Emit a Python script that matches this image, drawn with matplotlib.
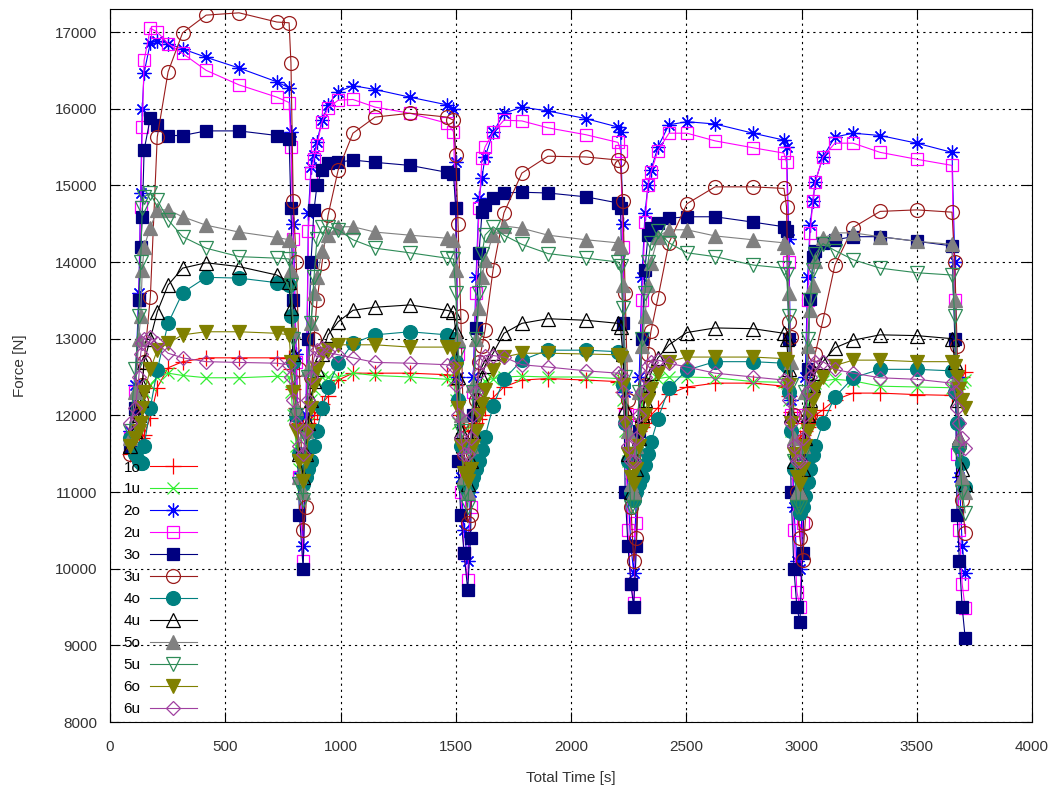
import matplotlib
matplotlib.use("Agg")
import matplotlib.pyplot as plt

# measurement times per cycle [s] (shared by all series)
t_c1 = [85, 110, 125, 133, 140, 148, 175, 205, 252, 315, 417, 560, 724, 777, 785, 795, 808, 822]
t_c2 = [838, 850, 861, 872, 885, 898, 920, 946, 990, 1054, 1150, 1301, 1462, 1490, 1500, 1510, 1522, 1536]
t_c3 = [1552, 1564, 1576, 1588, 1601, 1614, 1627, 1662, 1709, 1787, 1900, 2065, 2204, 2215, 2225, 2235, 2247, 2260]
t_c4 = [2272, 2284, 2296, 2308, 2321, 2334, 2347, 2377, 2425, 2503, 2625, 2790, 2924, 2935, 2945, 2955, 2967, 2980]
t_c5 = [2993, 3005, 3016, 3027, 3037, 3050, 3059, 3093, 3145, 3224, 3341, 3500, 3653, 3665, 3675, 3685, 3697, 3710]
time = t_c1 + t_c2 + t_c3 + t_c4 + t_c5

# force [N], one line per cycle
f_1o = [11500, 11550, 11600, 11650, 11700, 11750, 11970, 12360, 12620, 12700, 12750, 12750, 12750, 12750, 12600, 12350, 12100, 11900,
        11850, 11850, 11900, 11950, 12000, 12050, 12150, 12250, 12460, 12550, 12550, 12550, 12530, 12520, 12400, 12200, 12000, 11850,
        11800, 11800, 11850, 11900, 11950, 12000, 12100, 12230, 12370, 12460, 12480, 12460, 12440, 12430, 12300, 12100, 11950, 11800,
        11750, 11750, 11800, 11850, 11900, 11950, 12000, 12100, 12280, 12370, 12420, 12420, 12380, 12370, 12250, 12050, 11900, 11750,
        11700, 11750, 11800, 11850, 11900, 11950, 12000, 12070, 12200, 12290, 12290, 12270, 12260, 12300, 12350, 12450, 12500, 12560]
f_1u = [11700, 11800, 12000, 12100, 12200, 12300, 12400, 12500, 12550, 12520, 12490, 12490, 12510, 12500, 12300, 12000, 11600, 11300,
        11100, 11500, 11900, 12200, 12350, 12450, 12500, 12500, 12500, 12550, 12520, 12500, 12470, 12460, 12200, 11900, 11500, 11100,
        11100, 11500, 11900, 12150, 12300, 12400, 12450, 12480, 12500, 12510, 12500, 12500, 12480, 12470, 12200, 11800, 11400, 11100,
        11100, 11500, 11900, 12150, 12300, 12400, 12450, 12480, 12500, 12500, 12490, 12440, 12430, 12420, 12200, 11800, 11400, 11100,
        11100, 11500, 11900, 12150, 12300, 12380, 12420, 12450, 12470, 12450, 12380, 12370, 12360, 12380, 12400, 12420, 12440, 12460]
f_2o = [11800, 12400, 13600, 14900, 16000, 16470, 16860, 16880, 16850, 16780, 16670, 16530, 16350, 16270, 15700, 14500, 12800, 11200,
        10300, 12000, 14640, 15240, 15400, 15570, 15850, 16050, 16220, 16300, 16250, 16150, 16050, 16000, 15300, 12500, 11200, 10500,
        10100, 11000, 12500, 13800, 14830, 15100, 15370, 15690, 15940, 16020, 15970, 15870, 15760, 15700, 14500, 12300, 11000, 10300,
        9950, 11000, 12500, 13800, 14640, 15000, 15200, 15500, 15790, 15830, 15800, 15680, 15590, 15500, 14300, 12200, 10800, 10100,
        10000, 11000, 12500, 13800, 14480, 14800, 15040, 15370, 15630, 15680, 15650, 15550, 15430, 14000, 12500, 11200, 10300, 9950]
f_2u = [11700, 12300, 13500, 14720, 15760, 16630, 17050, 17000, 16850, 16720, 16500, 16310, 16150, 16080, 15500, 14300, 12700, 11200,
        10100, 11800, 14400, 15160, 15350, 15530, 15830, 16010, 16110, 16120, 16020, 15940, 15810, 15700, 14700, 12800, 11000, 10200,
        9850, 10800, 12300, 13600, 14700, 15360, 15500, 15690, 15850, 15840, 15750, 15660, 15560, 15450, 14200, 12000, 10500, 9800,
        9550, 10600, 12000, 13500, 14520, 15000, 15170, 15450, 15680, 15680, 15580, 15490, 15420, 15300, 14000, 12000, 10500, 9700,
        9500, 10600, 12000, 13500, 14380, 14800, 15040, 15370, 15550, 15550, 15430, 15340, 15260, 13500, 11500, 10500, 9800, 9490]
f_3o = [11600, 12100, 13500, 14200, 14590, 15460, 15880, 15790, 15650, 15650, 15710, 15710, 15650, 15610, 14700, 13500, 12000, 10700,
        10000, 11500, 13000, 14000, 14680, 15000, 15200, 15290, 15300, 15330, 15300, 15260, 15170, 15150, 14700, 11400, 10700, 10200,
        9720, 10400, 12000, 13140, 14120, 14650, 14750, 14830, 14900, 14910, 14900, 14850, 14770, 14700, 13200, 11000, 10300, 9800,
        9500, 10300, 11800, 13000, 13900, 14350, 14450, 14510, 14570, 14590, 14590, 14520, 14460, 14400, 13000, 11000, 10000, 9500,
        9300, 10200, 11500, 12600, 13520, 14060, 14150, 14250, 14290, 14330, 14330, 14270, 14210, 13000, 10700, 10100, 9500, 9100]
f_3u = [11500, 11800, 12000, 12200, 12400, 12700, 13540, 15630, 16480, 16990, 17220, 17250, 17130, 17120, 16600, 14800, 14000, 12600,
        10500, 10800, 11800, 12500, 13000, 13500, 13990, 14610, 15200, 15680, 15890, 15940, 15890, 15850, 15400, 14500, 13300, 11500,
        10600, 10700, 11500, 12200, 12700, 12900, 13110, 13900, 14640, 15160, 15380, 15370, 15330, 15250, 14800, 13600, 12200, 10800,
        10100, 10400, 11200, 11900, 12400, 12800, 13100, 13530, 14250, 14760, 14980, 14980, 14960, 14720, 13220, 13020, 12000, 11000,
        10400, 10110, 10600, 11300, 12000, 12500, 12800, 13240, 13960, 14450, 14660, 14680, 14650, 14000, 12900, 11600, 10900, 10460]
f_4o = [11700, 11500, 11400, 11380, 11380, 11600, 12100, 12590, 13200, 13600, 13800, 13790, 13730, 13700, 13300, 12700, 12000, 11500,
        11100, 11200, 11300, 11400, 11600, 11800, 12100, 12370, 12680, 12940, 13050, 13090, 13050, 13000, 12700, 12200, 11600, 11100,
        11030, 11100, 11200, 11300, 11400, 11550, 11720, 12120, 12470, 12720, 12850, 12850, 12830, 12800, 12400, 11900, 11400, 11000,
        10900, 11000, 11100, 11200, 11350, 11500, 11650, 11950, 12360, 12590, 12700, 12700, 12680, 12650, 12300, 11800, 11300, 10900,
        10730, 10800, 10950, 11130, 11300, 11480, 11600, 11900, 12240, 12490, 12600, 12600, 12580, 12300, 11900, 11600, 11380, 11070]
f_4u = [11600, 11800, 12000, 12200, 12400, 12700, 13000, 13350, 13700, 13920, 13990, 13940, 13830, 13740, 13400, 12800, 12100, 11500,
        11200, 11500, 11900, 12200, 12450, 12600, 12800, 13050, 13220, 13370, 13410, 13440, 13370, 13350, 13100, 12500, 11800, 11200,
        11100, 11400, 11800, 12100, 12300, 12500, 12650, 12810, 13070, 13200, 13260, 13240, 13200, 13150, 12800, 12100, 11500, 11000,
        11000, 11300, 11700, 12000, 12200, 12400, 12550, 12750, 12920, 13080, 13140, 13130, 13070, 13000, 12600, 12000, 11400, 11000,
        11000, 11300, 11700, 12000, 12200, 12400, 12550, 12700, 12880, 12980, 13050, 13040, 13000, 12700, 12200, 11700, 11300, 11100]
f_5o = [11700, 12300, 13000, 13300, 13900, 14200, 14450, 14680, 14680, 14590, 14480, 14390, 14320, 14290, 13900, 13100, 12100, 11200,
        11000, 11800, 12600, 13200, 13600, 13800, 14150, 14350, 14460, 14460, 14390, 14350, 14310, 14290, 13900, 13000, 12000, 11200,
        11000, 11600, 12400, 13000, 13400, 13800, 14030, 14350, 14470, 14440, 14350, 14290, 14250, 14200, 13700, 12800, 11800, 11100,
        11000, 11600, 12300, 12900, 13300, 13700, 13990, 14330, 14420, 14420, 14340, 14290, 14250, 14200, 13600, 12700, 11700, 11000,
        11000, 11600, 12300, 12900, 13380, 13700, 14010, 14310, 14380, 14380, 14330, 14270, 14230, 13500, 12500, 11700, 11200, 11000]
f_5u = [11800, 12600, 13300, 14000, 14700, 14850, 14900, 14810, 14550, 14330, 14180, 14070, 14050, 14040, 13700, 13000, 12000, 11100,
        10900, 11700, 12500, 13200, 13800, 14300, 14460, 14460, 14420, 14290, 14180, 14120, 14050, 14040, 13600, 12800, 11800, 11000,
        10800, 11500, 12300, 13000, 13600, 14100, 14350, 14460, 14350, 14230, 14110, 14050, 14000, 13950, 13400, 12500, 11500, 10800,
        10800, 11500, 12300, 13000, 13600, 14000, 14250, 14400, 14250, 14120, 14070, 13960, 13920, 13850, 13300, 12400, 11400, 10800,
        10800, 11500, 12300, 13000, 13500, 13900, 14100, 14240, 14150, 14030, 13920, 13860, 13830, 13300, 12300, 11500, 11000, 10730]
f_6o = [11600, 11700, 11800, 11900, 12100, 12300, 12600, 12850, 12940, 13050, 13090, 13090, 13070, 13050, 12700, 12300, 11800, 11400,
        11150, 11400, 11800, 12100, 12400, 12600, 12800, 12850, 12920, 12920, 12920, 12890, 12890, 12870, 12600, 12100, 11600, 11250,
        11150, 11300, 11600, 11800, 12000, 12150, 12330, 12590, 12760, 12810, 12810, 12800, 12790, 12750, 12400, 11900, 11500, 11200,
        11100, 11300, 11600, 11800, 12000, 12200, 12350, 12550, 12700, 12760, 12760, 12760, 12740, 12700, 12400, 11900, 11500, 11200,
        11100, 11300, 11600, 11800, 12000, 12200, 12350, 12500, 12650, 12720, 12720, 12700, 12700, 12650, 12500, 12350, 12200, 12100]
f_6u = [11900, 12100, 12500, 12800, 12950, 13000, 13020, 12940, 12810, 12750, 12700, 12690, 12680, 12660, 12500, 12200, 11900, 11600,
        11500, 11800, 12200, 12500, 12750, 12850, 12880, 12820, 12790, 12750, 12690, 12680, 12660, 12640, 12400, 12000, 11700, 11500,
        11500, 11700, 12000, 12300, 12550, 12700, 12780, 12780, 12760, 12660, 12630, 12580, 12550, 12530, 12300, 11900, 11600, 11400,
        11400, 11700, 12000, 12300, 12500, 12650, 12700, 12720, 12680, 12630, 12550, 12500, 12460, 12440, 12200, 11900, 11600, 11400,
        11400, 11700, 12000, 12300, 12500, 12650, 12700, 12700, 12600, 12550, 12490, 12470, 12420, 12300, 12100, 11900, 11700, 11570]

labels = ["1o", "1u", "2o", "2u", "3o", "3u", "4o", "4u", "5o", "5u", "6o", "6u"]
forces = [f_1o, f_1u, f_2o, f_2u, f_3o, f_3u, f_4o, f_4u, f_5o, f_5u, f_6o, f_6u]

# colour, marker, size, filled
styles = [
    ("#ff0000", "+", 11, True),
    ("#33ee33", "x", 8, True),
    ("#0000ff", (8, 2, 0), 10, True),
    ("#ff00ff", "s", 8, False),
    ("#000080", "s", 8, True),
    ("#9a1c1c", "o", 10, False),
    ("#008080", "o", 10, True),
    ("#000000", "^", 10, False),
    ("#808080", "^", 10, True),
    ("#2e8b57", "v", 10, False),
    ("#808000", "v", 10, True),
    ("#a040a0", "D", 7, False),
]

plt.rcParams["font.family"] = ["Liberation Sans", "DejaVu Sans"]
plt.rcParams["font.size"] = 11

fig = plt.figure(figsize=(10.64, 7.89), dpi=100)
ax = fig.add_axes([110 / 1064, 1 - 722 / 789, 922 / 1064, 713 / 789])

for lab, f, (c, m, ms, filled) in zip(labels, forces, styles):
    ax.plot(time, f, color=c, lw=0.8, marker=m, ms=ms, mew=0.9,
            mfc=c if filled else "none", mec=c, label=lab)

ax.set_xlim(0, 4000)
ax.set_ylim(8000, 17300)
ax.set_xticks(range(0, 4001, 500))
ax.set_yticks(range(8000, 17001, 1000))
ax.grid(True, color="black", lw=0.8, linestyle=(0, (2, 3.5)))
ax.tick_params(direction="in", length=7, top=True, right=True, colors="black",
               labelcolor="#333333", labelsize=11)
ax.tick_params(axis="y", pad=9)
ax.tick_params(axis="x", pad=13)
ax.set_xlabel("Total Time [s]", color="#333333", labelpad=12)
ax.set_ylabel("Force [N]", color="#333333", labelpad=20)

ax.legend(loc="lower left", bbox_to_anchor=(0.008, 0.0), frameon=False,
          markerfirst=False, numpoints=1, handlelength=3.1, handletextpad=0.6,
          labelspacing=0.52, borderaxespad=0.0, fontsize=11)

fig.savefig("out.png", dpi=100)
